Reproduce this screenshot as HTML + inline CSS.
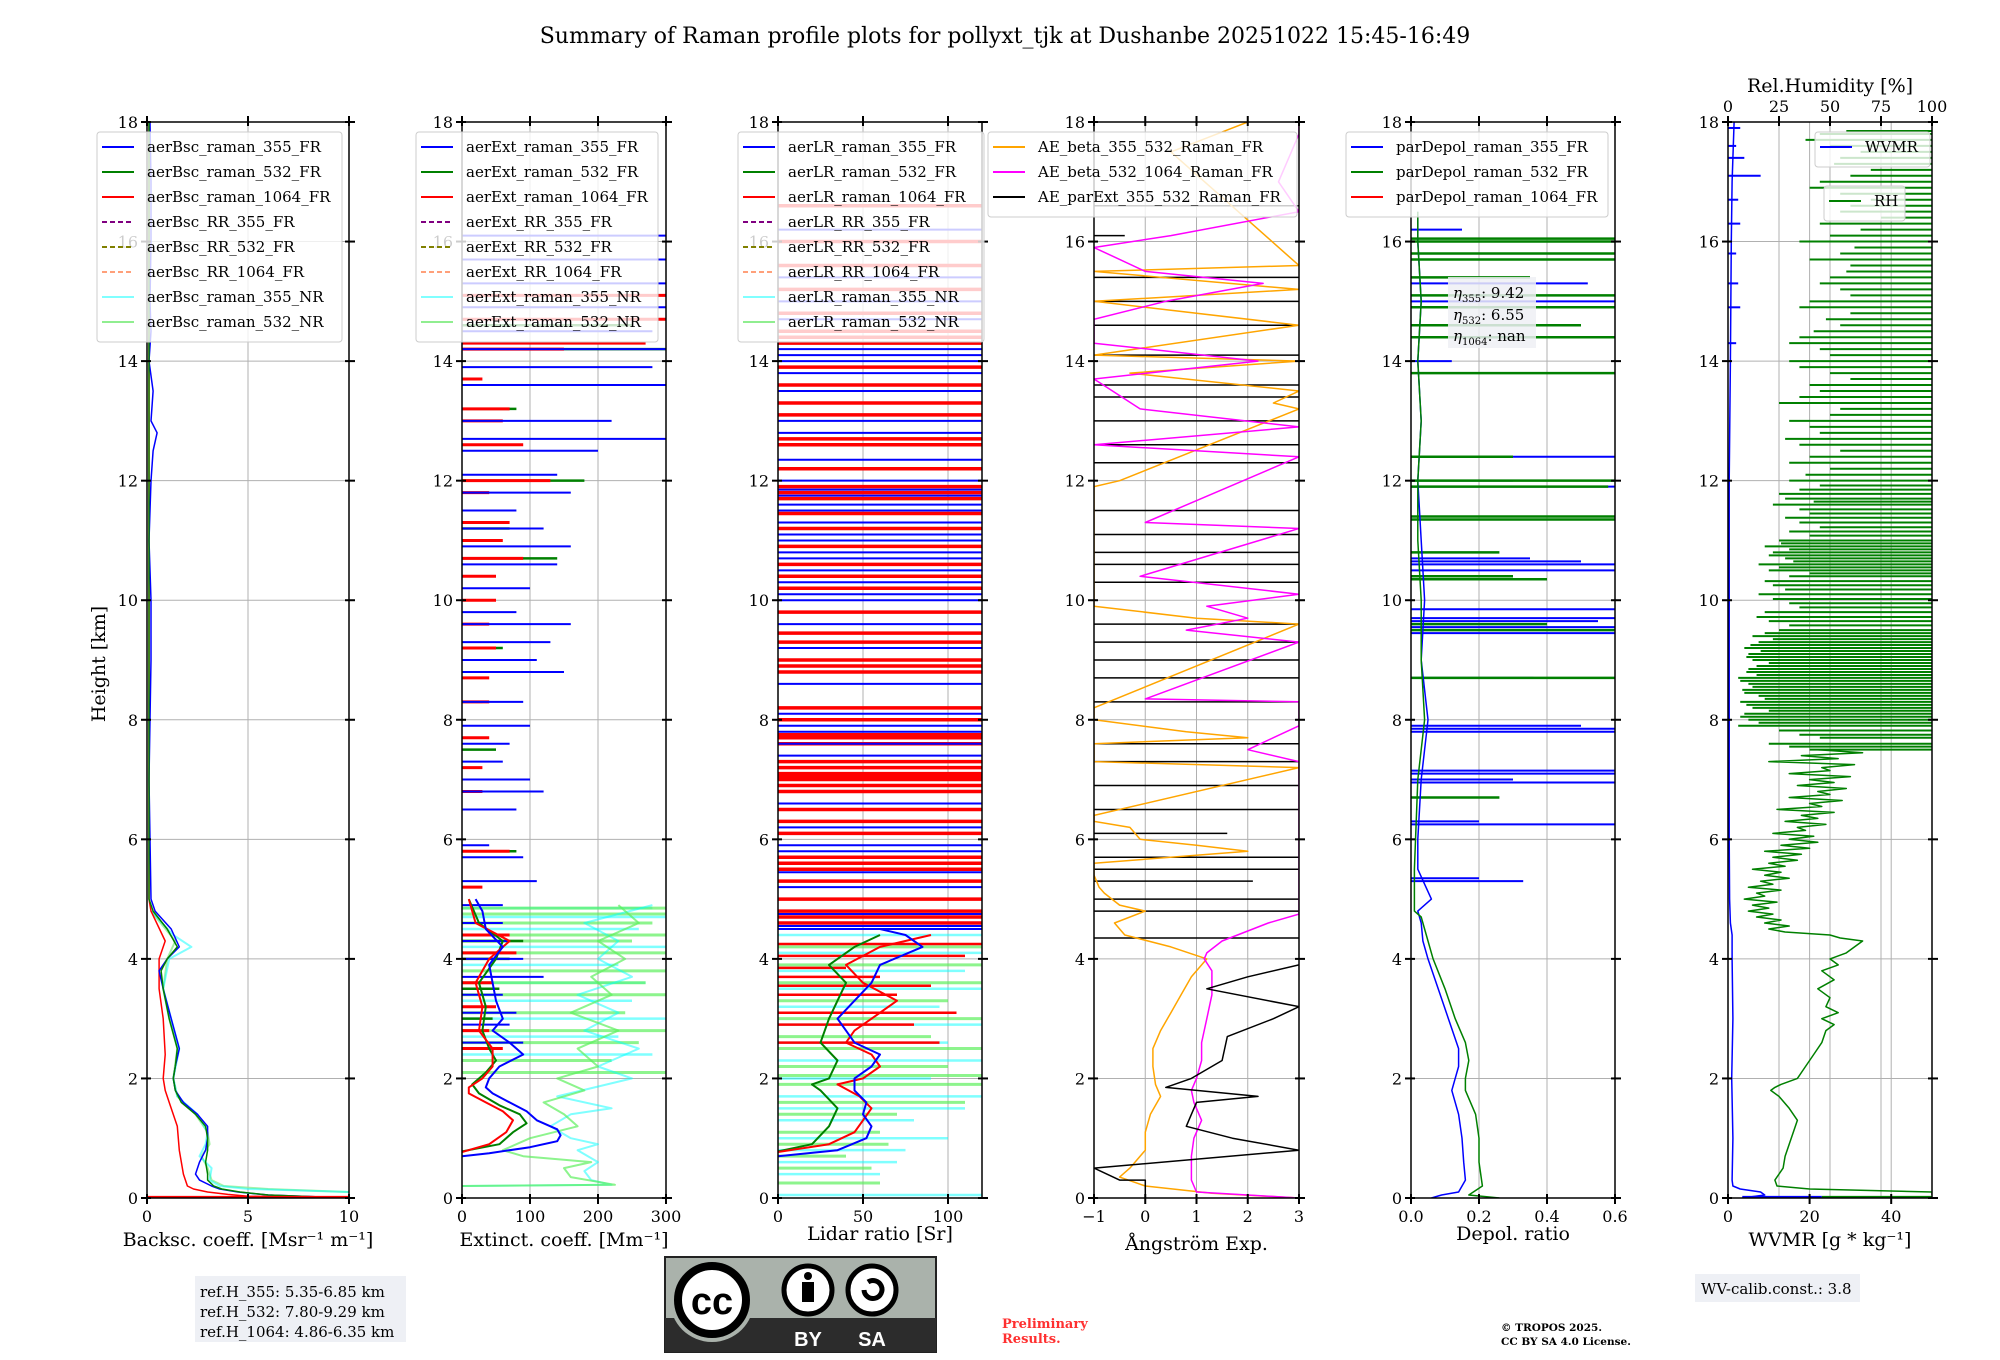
<!DOCTYPE html>
<html><head><meta charset="utf-8"><title>Raman profile summary</title>
<style>
html,body{margin:0;padding:0;background:#fff;}
svg{display:block;font-family:"DejaVu Serif","Liberation Serif",serif;}
</style></head>
<body>
<svg id="fig" width="2000" height="1360" viewBox="0 0 2000 1360" xmlns="http://www.w3.org/2000/svg">
<rect x="0" y="0" width="2000" height="1360" fill="#fff"/>
<text x="1005" y="43" font-size="22" text-anchor="middle">Summary of Raman profile plots for pollyxt_tjk at Dushanbe 20251022 15:45-16:49</text>
<text transform="translate(105,664) rotate(-90)" font-size="19" text-anchor="middle">Height [km]</text>
<g id="panels"></g>
<g>
<rect x="195" y="1276" width="211" height="66" fill="#eef0f5"/>
<text x="200" y="1297" font-size="15">ref.H_355: 5.35-6.85 km</text>
<text x="200" y="1317" font-size="15">ref.H_532: 7.80-9.29 km</text>
<text x="200" y="1337" font-size="15">ref.H_1064: 4.86-6.35 km</text>
</g>
<g>
<rect x="665" y="1257" width="271" height="95" fill="#aab2ab" stroke="#222" stroke-width="2"/>
<rect x="665" y="1318" width="271" height="34" fill="#2c2c2c"/>
<circle cx="712" cy="1300" r="42" fill="#aab2ab"/>
<circle cx="712" cy="1300" r="34" fill="#fff" stroke="#000" stroke-width="8"/>
<text x="712" y="1314" font-size="38" font-weight="bold" text-anchor="middle" font-family="Liberation Sans,sans-serif">cc</text>
<circle cx="808" cy="1290" r="24" fill="#fff" stroke="#000" stroke-width="5"/>
<circle cx="808" cy="1276" r="4" fill="#000"/><rect x="802" y="1282" width="12" height="20" fill="#000"/>
<circle cx="872" cy="1290" r="24" fill="#fff" stroke="#000" stroke-width="5"/>
<path d="M864 1290 a9 9 0 1 0 4 -8" fill="none" stroke="#000" stroke-width="5"/>
<text x="808" y="1346" font-size="20" font-weight="bold" fill="#fff" text-anchor="middle" font-family="Liberation Sans,sans-serif">BY</text>
<text x="872" y="1346" font-size="20" font-weight="bold" fill="#fff" text-anchor="middle" font-family="Liberation Sans,sans-serif">SA</text>
</g>
<text x="1002" y="1328" font-size="13" font-weight="bold" fill="#ff3030">Preliminary</text>
<text x="1002" y="1343" font-size="13" font-weight="bold" fill="#ff3030">Results.</text>
<text x="1501" y="1331" font-size="10.5" font-weight="bold">© TROPOS 2025.</text>
<text x="1501" y="1345" font-size="10.5" font-weight="bold">CC BY SA 4.0 License.</text>
<g>
<rect x="1695" y="1274" width="165" height="28" fill="#eef0f5"/>
<text x="1701" y="1294" font-size="15">WV-calib.const.: 3.8</text>
</g>
</svg>
<script>
// ---------- DATA ----------
const bsc355H=[0,0.05,0.1,0.15,0.2,0.3,0.4,0.6,0.8,1.0,1.2,1.4,1.6,1.8,2.0,2.2,2.5,3.0,3.5,3.8,4.0,4.2,4.5,4.8,5.0,6,7,8,9,10,11,12,12.5,12.8,13,13.5,14,14.5,15,16,17,18];
const bsc355V=[10,6,4.5,3.6,3.2,2.6,2.4,2.6,2.9,3.0,3.0,2.5,1.8,1.4,1.3,1.4,1.6,1.2,0.8,0.6,1.0,1.6,1.2,0.4,0.2,0.15,0.1,0.15,0.2,0.2,0.1,0.2,0.3,0.5,0.2,0.3,0.1,0.2,0.15,0.2,0.2,0.15];
const bsc532H=[0,0.05,0.1,0.15,0.2,0.3,0.4,0.6,0.8,1.0,1.2,1.4,1.6,1.8,2.0,2.2,2.5,3.0,3.5,3.8,4.0,4.2,4.5,4.8,5.0,18];
const bsc532V=[10,6,4.6,3.7,3.3,3.0,3.0,2.9,3.0,3.0,2.9,2.4,1.7,1.4,1.3,1.4,1.5,1.1,0.8,0.7,1.0,1.5,1.0,0.3,0.1,0.1];
const bsc1064H=[0,0.03,0.06,0.1,0.15,0.2,0.4,0.8,1.2,1.6,1.8,2.0,2.4,3.0,3.5,4.0,4.3,4.8,5.0,18];
const bsc1064V=[10,5,4,3,2.3,2.0,1.8,1.6,1.5,1.1,0.9,0.8,0.9,0.8,0.6,0.6,0.9,0.2,0.1,0.1];
const bscNR355H=[0.1,0.15,0.2,0.3,0.5,0.7,0.9,1.1,1.4,1.7,2.0,2.5,3.0,3.5,4.0,4.2,4.4,4.8];
const bscNR355V=[10,5,3.6,3.1,3.2,2.6,2.9,3.0,2.5,1.5,1.3,1.6,1.2,0.8,1.1,2.2,1.3,0.2];
const bscNR532H=[0.1,0.15,0.2,0.3,0.5,0.7,0.9,1.1,1.4,1.7,2.0,2.5,3.0,3.5,4.0,4.3,4.8];
const bscNR532V=[10,6,3.8,3.2,3.0,2.7,3.1,3.0,2.4,1.5,1.3,1.5,1.1,0.8,1.0,1.4,0.2];
const ext355H=[0.7,0.75,0.85,0.95,1.05,1.15,1.3,1.45,1.6,1.75,1.85,2.0,2.2,2.4,2.6,2.8,3.0,3.3,3.6,3.9,4.2,4.5,4.8,5.0];
const ext355V=[0,40,100,140,145,140,110,95,70,45,35,40,55,90,70,45,60,50,45,40,60,35,30,20];
const ext532H=[0.78,0.9,1.1,1.25,1.4,1.55,1.75,1.9,2.1,2.3,2.5,2.8,3.2,3.6,4.0,4.3,4.6,5.0];
const ext532V=[0,55,75,95,85,55,25,15,35,50,40,30,35,25,50,60,25,10];
const ext1064H=[0.77,0.9,1.1,1.3,1.45,1.6,1.75,1.85,2.0,2.2,2.5,2.8,3.2,3.6,4.0,4.3,4.6,5.0];
const ext1064V=[0,40,65,75,60,35,10,10,30,45,45,25,30,20,40,70,20,10];
const extNR355H=[0.2,0.22,0.3,0.45,0.6,0.8,0.9,1.0,1.2,1.4,1.5,1.7,2.0,2.2,2.5,2.8,3.1,3.4,3.7,4.0,4.3,4.6,4.9];
const extNR355V=[0,220,190,180,200,170,200,160,130,160,220,140,250,200,260,180,230,170,250,200,230,180,280];
const extNR532H=[0.2,0.22,0.35,0.5,0.6,0.7,0.8,1.0,1.2,1.4,1.6,1.8,2.0,2.2,2.5,2.8,3.1,3.4,3.7,4.0,4.3,4.6,4.9];
const extNR532V=[0,225,160,150,190,90,60,100,170,150,120,180,140,200,170,230,160,220,190,240,200,260,230];
const extSp355H=[2.6,2.9,3.1,3.4,3.7,4.0,4.3,4.6,4.9,5.3,5.7,5.9,6.5,6.8,7.0,7.3,7.6,7.9,8.3,8.8,9.0,9.3,9.6,9.8,10.2,10.6,10.9,11.2,11.5,11.8,12.1,12.5,12.7,13.0,13.6,13.9,14.2,14.5,14.9,15.3,15.7,16.1];
const extSp355V=[90,70,80,60,120,90,70,60,60,110,90,40,80,120,100,60,70,100,90,150,110,130,160,80,100,140,160,120,80,160,140,200,300,220,300,280,300,280,300,300,300,300];
const extSp1064H=[2.5,2.8,3.2,3.6,4.1,4.4,5.2,5.8,6.8,7.2,7.7,8.3,8.7,9.2,9.6,10.0,10.4,10.7,11.0,11.3,11.8,12.0,12.6,13.0,13.2,13.7,14.2,14.3,14.7,15.1];
const extSp1064V=[60,40,50,45,80,70,30,70,30,30,40,40,40,50,40,50,50,90,60,70,40,130,90,60,70,30,150,270,300,300];
const extSp532H=[2.5,3.0,3.5,4.0,4.3,5.8,7.5,8.3,9.2,10.0,10.7,11.2,12.0,12.6,13.2,14.2,14.6];
const extSp532V=[50,45,55,70,90,80,50,30,60,40,140,70,180,60,80,300,250];
const extSpNR355H=[2.4,2.7,3.0,3.3,3.6,3.9,4.2,4.5,4.7,4.85];
const extSpNR355V=[280,230,300,250,270,230,300,260,300,280];
const extSpNR532H=[2.1,2.3,2.6,2.8,3.1,3.4,3.6,3.8,4.1,4.3,4.4,4.6,4.75,4.85];
const extSpNR532V=[300,220,260,300,240,300,270,300,300,250,300,280,300,300];
const lr355H=[0.7,0.8,1.0,1.2,1.4,1.6,1.8,2.0,2.2,2.4,2.6,2.8,3.0,3.3,3.6,3.9,4.2,4.4,4.5];
const lr355V=[0,35,52,55,50,52,45,45,55,60,45,40,35,45,55,60,85,75,60];
const lr532H=[0.78,0.9,1.2,1.5,1.8,1.9,2.0,2.3,2.6,3.0,3.3,3.6,3.9,4.2,4.4];
const lr532V=[0,20,30,35,25,20,30,35,25,30,35,40,30,45,60];
const lr1064H=[0.77,0.9,1.1,1.3,1.5,1.7,1.9,2.0,2.2,2.4,2.6,2.8,3.0,3.3,3.6,3.9,4.2,4.4];
const lr1064V=[0,30,45,50,55,48,35,50,60,55,40,45,55,70,50,40,60,90];
const lrSpNR355H=[0.05,0.4,0.6,0.8,1.0,1.3,1.5,1.7,2.0,2.3,2.6,2.9,3.2,3.5,3.8,4.1,4.4];
const lrSpNR355V=[120,60,70,75,100,80,110,120,90,120,100,120,95,120,110,120,120];
const lrSpNR532H=[0.25,0.5,0.7,0.9,1.1,1.4,1.6,1.9,2.05,2.2,2.5,2.7,3.0,3.3,3.6,3.9,4.2,4.6,4.8];
const lrSpNR532V=[60,55,40,65,60,70,110,120,120,100,120,90,120,100,120,120,120,120,120];
const lrSp1064H=[2.6,2.9,3.1,3.4,3.55,3.7,3.85,4.05,4.25];
const lrSp1064V=[95,80,105,70,90,60,40,110,120];
const lrRedH=[4.6,4.7,4.8,5.0,5.3,5.5,5.6,5.7,6.1,6.3,6.5,6.8,6.9,7.0,7.05,7.1,7.2,7.3,7.6,7.7,7.75,8.0,8.2,8.8,8.9,9.0,9.3,9.45,9.8,10.2,10.4,10.6,10.9,11.2,11.45,11.7,11.8,11.9,12.2,12.6,12.7,13.1,13.3,13.6,13.9,14.3,14.4,14.5,14.8,15.2,15.6,16.0,16.6];
const lrBlueH=[4.5,4.55,4.75,5.2,5.45,5.8,5.9,6.2,6.6,7.4,7.6,7.8,7.9,8.1,8.6,9.2,9.6,10.0,10.1,10.3,10.5,10.7,10.8,11.0,11.1,11.3,11.5,11.6,11.75,11.85,12.0,12.35,12.8,13.0,13.5,13.8,14.0,14.1,14.2,14.7,15.0,15.4,16.2];
const aeOrH=[0,0.08,0.2,0.35,0.5,0.8,1.1,1.4,1.7,1.9,2.2,2.5,2.8,3.1,3.4,3.7,4.0,4.2,4.4,4.6,4.8,4.9,5.1,5.2,5.4,5.6,5.8,5.9,6.0,6.2,6.3,6.4,7.2,7.3,7.6,7.7,7.8,8.0,8.2,9.6,9.7,9.9,10.5,11.9,12.0,13.2,13.3,13.5,13.8,14.0,14.1,14.6,15.0,15.2,15.5,15.6,17.5,18];
const aeOrV=[3,1.3,0,-0.5,-0.3,0,0,0.1,0.3,0.2,0.15,0.15,0.3,0.5,0.7,0.9,1.2,0.5,-0.4,-0.6,0.0,-0.5,-0.8,-0.9,-1,-1,2.0,1.0,-0.1,-0.3,-1,-1,3.0,-1,-1,2.0,0.8,-1,-1,3,1,-1,-1,-1,-0.5,3,2.5,3,-0.3,3,-1,3,-1,3,-1,3,0.5,2];
const aeMaH=[0,0.1,0.3,0.7,1.0,1.3,1.6,1.8,2.0,2.3,2.6,3.0,3.4,3.8,4.0,4.1,4.3,4.6,4.75,7.3,7.5,7.7,7.9,8.3,8.35,9.3,9.5,9.7,9.9,10.1,10.4,11.2,11.3,12.4,12.6,12.9,13.2,13.7,14.0,14.3,14.7,15.0,15.3,15.5,15.9,16.1,16.5,17.0,17.8,18];
const aeMaV=[3,1.0,0.9,0.9,0.95,1.1,0.95,0.9,1.0,1.1,1.1,1.2,1.3,1.3,1.15,1.2,1.5,2.4,3,3,2.0,2.5,3,3,0.0,3,0.8,2.0,1.2,3,-0.1,3,0,3,-1,3,-0.1,-1,2.2,-1,-1,0.4,2.3,0,-1,0.5,3,2.6,3,3];
const aeBlH=[0,0.3,0.3,0.5,0.8,1.0,1.2,1.4,1.6,1.7,1.85,2.0,2.3,2.7,3.0,3.2,3.5,3.7,3.9];
const aeBlV=[0,0,-0.5,-1,3,1.7,0.8,0.9,1.0,2.2,0.4,0.9,1.5,1.6,2.5,3,1.2,2.0,3];
const aeBlSpH=[4.35,4.8,5.0,5.3,5.5,5.7,6.1,6.5,6.9,7.3,7.6,8.3,8.7,9.0,9.3,9.6,10.3,10.6,10.8,11.1,11.5,12.3,12.6,13.0,13.4,13.6,14.1,14.6,15.0,15.4,16.1,16.6];
const aeBlSpV=[3,3,3,2.1,3,3,1.6,3,3,3,3,3,3,3,3,3,3,3,3,3,3,3,3,3,3,3,3,3,3,3,-0.4,3];
const dep355H=[0,0.05,0.1,0.3,0.6,1.0,1.4,1.8,2.0,2.2,2.5,3.0,3.5,4.0,4.3,4.6,4.8,5.0,5.5,6,7,8,9,10,11,12,13,14,15,16,16.5];
const dep355V=[0.06,0.09,0.14,0.16,0.155,0.15,0.14,0.12,0.13,0.14,0.14,0.11,0.08,0.05,0.035,0.03,0.02,0.06,0.02,0.02,0.03,0.05,0.03,0.04,0.03,0.02,0.03,0.02,0.03,0.02,0.02];
const dep532H=[0,0.05,0.2,0.6,1.0,1.4,1.8,2.0,2.3,2.6,3.0,3.5,4.0,4.4,4.7,4.8,5.5,7,8,9,10,11,12,13,14,15,16,16.5];
const dep532V=[0.26,0.17,0.21,0.2,0.2,0.19,0.16,0.16,0.17,0.16,0.13,0.1,0.065,0.045,0.03,0.01,0.01,0.02,0.04,0.03,0.03,0.02,0.02,0.03,0.02,0.03,0.02,0.02];
const depSp355H=[5.3,5.35,6.25,6.3,6.95,7.0,7.1,7.15,7.8,7.85,7.9,8.7,9.45,9.55,9.65,9.7,9.85,10.5,10.6,10.65,10.7,11.35,11.4,11.9,12.0,12.4,14.0,15.0,15.3,16.2];
const depSp355V=[0.33,0.2,0.6,0.2,0.6,0.3,0.6,0.6,0.6,0.6,0.5,0.36,0.6,0.6,0.55,0.6,0.6,0.6,0.6,0.5,0.35,0.6,0.4,0.6,0.3,0.6,0.12,0.6,0.52,0.15];
const depSp532H=[6.7,8.7,9.5,9.6,10.35,10.4,10.8,11.35,11.4,11.9,12.0,12.4,13.8,14.4,14.6,14.9,15.1,15.4,15.7,15.8,16.0,16.05];
const depSp532V=[0.26,0.6,0.6,0.4,0.4,0.3,0.26,0.6,0.6,0.58,0.6,0.3,0.6,0.6,0.5,0.6,0.6,0.35,0.6,0.6,0.6,0.6];
const wvH=[0,0.05,0.1,0.15,0.2,0.3,1.0,2.0,3.0,4.0,4.4,4.6,5,6,8,10,12,14,16,17,18];
const wvV=[3.5,9,8,3,1.2,1.0,1.2,0.9,1.2,1.0,1.0,0.6,0.4,0.3,0.3,0.3,0.3,0.6,0.8,1.0,1.5];
const rhH=[0.05,0.1,0.15,0.2,0.3,0.5,0.7,0.9,1.1,1.3,1.5,1.7,1.8,1.85,1.9,2.0,2.2,2.4,2.6,2.8,2.9,3.0,3.1,3.2,3.35,3.5,3.65,3.8,3.9,4.0,4.1,4.2,4.3,4.35,4.4,4.45,4.5,4.55,4.6,4.65,4.7,4.75,4.8,4.85,4.9,4.95,5.0,5.05,5.1,5.15,5.2,5.25,5.3,5.35,5.4,5.45,5.5,5.55,5.6,5.65,5.7,5.75,5.8,5.85,5.9,5.95,6.0,6.05,6.1,6.15,6.2,6.25,6.3,6.35,6.4,6.45,6.5,6.55,6.6,6.65,6.7,6.75,6.8,6.85,6.9,6.95,7.0,7.05,7.1,7.15,7.2,7.25,7.3,7.35,7.4,7.45,7.5];
const rhV=[100,100,40,24,23,27,28,30,32,34,30,25,21,23,26,34,38,42,46,48,52,46,54,48,50,44,52,46,54,50,58,62,66,55,50,28,20,30,18,26,14,22,10,20,12,24,8,18,14,26,10,22,16,30,18,26,12,28,20,34,22,36,18,40,26,44,30,42,22,38,34,48,28,44,36,52,24,46,40,56,30,50,44,58,34,52,40,60,30,50,46,62,20,54,36,66,44];
const rhSpH=[7.5,7.6,7.75,7.9,8.0,8.1,8.2,8.3,8.4,8.5,8.6,8.7,8.8,8.9,9.0,9.1,9.2,9.3,9.4,9.5,9.65,9.8,9.95,10.1,10.25,10.4,10.5,10.6,10.7,10.8,10.9,11.0,11.15,11.3,11.45,11.6,11.7,11.85,12.0,12.2,12.4,12.6,12.8,13.0,13.2,13.4,13.6,13.8,14.0,14.2,14.4,14.6,14.8,15.0,15.2,15.4,15.6,15.8,16.0,16.2,16.4,16.6,16.8,17.0,17.2,17.4,17.6,17.8];
const rhSpL=[40,20,35,5,10,8,12,6,15,7,10,5,9,14,12,10,8,15,12,25,20,18,30,15,22,30,20,15,28,22,18,25,30,35,40,22,28,35,30,50,40,35,45,30,55,35,40,50,30,45,35,55,60,40,55,50,60,55,35,65,75,60,55,45,70,55,50,45];
const rhSp2H=[7.55,7.7,7.82,7.95,8.05,8.15,8.25,8.35,8.45,8.55,8.65,8.75,8.85,8.95,9.05,9.15,9.25,9.35,9.45,9.58,9.72,9.88,10.02,10.18,10.32,10.45,10.55,10.65,10.75,10.85,10.95,11.08,11.22,11.38,11.52,11.65,11.78,11.92,12.1,12.3,12.5,12.7,12.9,13.1,13.3,13.5,13.7,13.9,14.1,14.3,14.5,14.7,14.9,15.1,15.3,15.5,15.7,15.9,16.1,16.3,16.5,16.7,16.9,17.1,17.3,17.5,17.7,17.85];
const rhSp2L=[30,45,25,15,6,20,9,18,8,12,6,14,10,20,9,16,11,22,18,30,14,35,22,28,18,40,25,32,20,30,26,40,45,28,35,42,25,45,38,30,55,28,40,50,25,45,60,35,50,30,42,48,35,60,45,58,40,62,50,45,55,70,40,60,52,65,38,58];
const wvSpH=[14.3,14.9,15.3,15.8,16.3,16.7,17.1,17.4,17.6,17.9];
const wvSpV=[2,3,2.5,2,3,2.5,8,4,2,3];
const yTicks=[0,2,4,6,8,10,12,14,16,18];
const p1Ticks=[0,5,10], p2Ticks=[0,100,200,300], p3Ticks=[0,50,100], p4Ticks=[-1,0,1,2,3], p5Ticks=[0,0.2,0.4,0.6], p6Ticks=[0,20,40], rhTicks=[0,25,50,75,100];
const p4Labels=['\u22121','0','1','2','3'], p5Labels=['0.0','0.2','0.4','0.6'];

// ---------- DRAWING ----------
const NS='http://www.w3.org/2000/svg';
const Y0=1198, Y18=122;
function yOf(h){return Y0-(h/18)*(Y0-Y18);}
const panels=[
 {x0:147,x1:349,min:0,max:10,ticks:p1Ticks,labels:null,label:'Backsc. coeff. [Msr\u207B\u00B9 m\u207B\u00B9]',name:'backscatter-panel'},
 {x0:462,x1:666,min:0,max:300,ticks:p2Ticks,labels:null,label:'Extinct. coeff. [Mm\u207B\u00B9]',name:'extinction-panel'},
 {x0:778,x1:982,min:0,max:120,ticks:p3Ticks,labels:null,label:'Lidar ratio [Sr]',name:'lidar-ratio-panel'},
 {x0:1094,x1:1299,min:-1,max:3,ticks:p4Ticks,labels:p4Labels,label:'\u00C5ngstr\u00F6m Exp.',name:'angstrom-panel'},
 {x0:1411,x1:1615,min:0,max:0.6,ticks:p5Ticks,labels:p5Labels,label:'Depol. ratio',name:'depol-panel'},
 {x0:1728,x1:1932,min:0,max:50,ticks:p6Ticks,labels:null,label:'WVMR [g * kg\u207B\u00B9]',name:'wvmr-panel'}
];
const labelY=[1246,1246,1240,1250,1240,1246];
function xOf(p,v){return p.x0+(v-p.min)/(p.max-p.min)*(p.x1-p.x0);}
function el(tag,attrs,parent){const e=document.createElementNS(NS,tag);for(const k in attrs)e.setAttribute(k,attrs[k]);parent.appendChild(e);return e;}
const root=document.getElementById('panels');

function line(g,p,H,V,color,w,op){
  const pts=H.map((h,i)=>xOf(p,V[i]).toFixed(1)+','+yOf(h).toFixed(1)).join(' ');
  const e=el('polyline',{points:pts,fill:'none',stroke:color,'stroke-width':w,'stroke-opacity':op||1,'stroke-linejoin':'round'},g);
  
  
}
function spikes(g,p,H,V,base,color,w,op){
  H.forEach((h,i)=>{
    const e=el('line',{x1:xOf(p,base),x2:xOf(p,V[i]),y1:yOf(h),y2:yOf(h),stroke:color,'stroke-width':w,'stroke-opacity':op||1},g);
    
    
  });
}
function spikesL(g,p,H,L,right,color,w,op){
  H.forEach((h,i)=>{
    const e=el('line',{x1:xOf(p,L[i]),x2:xOf(p,right),y1:yOf(h),y2:yOf(h),stroke:color,'stroke-width':w,'stroke-opacity':op||1},g);
    
    
  });
}
function legend(x,y,w,entries,name,fs){
  const g=el('g',{},document.getElementById('fig'));
  
  
  const h=entries.length*25+10;
  el('rect',{x:x,y:y,width:w,height:h,rx:3,fill:'#fff','fill-opacity':0.8,stroke:'#ccc'},g);
  entries.forEach((en,i)=>{
    const cy=y+15+i*25;
    const l=el('line',{x1:x+5,x2:x+37,y1:cy,y2:cy,stroke:en[1],'stroke-width':2,'stroke-dasharray':en[2]?'5,3':'none'},g);
    
    
    const t=el('text',{x:x+50,y:cy+5,'font-size':fs||15},g);
    t.textContent=en[0];
    
    
  });
}

panels.forEach((p,pi)=>{
  const g=el('g',{},root);
  
  
  const cid='clip'+pi;
  const cp=el('clipPath',{id:cid},g);
  el('rect',{x:p.x0,y:Y18,width:p.x1-p.x0,height:Y0-Y18},cp);
  yTicks.forEach(t=>{ if(t>0&&t<18){const e=el('line',{x1:p.x0,x2:p.x1,y1:yOf(t),y2:yOf(t),stroke:'#b0b0b0','stroke-width':1},g);}});
  p.ticks.forEach(t=>{const xx=xOf(p,t); if(xx>p.x0+1&&xx<p.x1-1){const e=el('line',{x1:xx,x2:xx,y1:Y18,y2:Y0,stroke:'#b0b0b0','stroke-width':1},g);}});
  if(pi===5){rhTicks.forEach(t=>{const xx=p.x0+t/100*(p.x1-p.x0); if(t>0&&t<100){const e=el('line',{x1:xx,x2:xx,y1:Y18,y2:Y0,stroke:'#b0b0b0','stroke-width':1},g);}});}
  const d=el('g',{'clip-path':'url(#'+cid+')'},g);
  
  
  if(pi===0){
    line(d,p,bscNR532H,bscNR532V,'#90ee90',2,0.8);
    line(d,p,bscNR355H,bscNR355V,'#00ffff',2,0.5);
    line(d,p,bsc1064H,bsc1064V,'#ff0000',1.5);
    line(d,p,bsc355H,bsc355V,'#0000ff',1.5);
    line(d,p,bsc532H,bsc532V,'#008000',1.5);
    spikes(d,p,[0.01],[10],0,'#ff0000',3);
  } else if(pi===1){
    spikes(d,p,extSpNR355H,extSpNR355V,0,'#00ffff',2.5,0.5);
    spikes(d,p,extSpNR532H,extSpNR532V,0,'#5cf05c',3,0.7);
    line(d,p,extNR355H,extNR355V,'#00ffff',2,0.5);
    line(d,p,extNR532H,extNR532V,'#5cf05c',2,0.7);
    spikes(d,p,extSp532H,extSp532V,0,'#008000',2.5);
    spikes(d,p,extSp1064H,extSp1064V,0,'#ff0000',3);
    spikes(d,p,extSp355H,extSp355V,0,'#0000ff',2);
    line(d,p,ext532H,ext532V,'#008000',2);
    line(d,p,ext1064H,ext1064V,'#ff0000',2);
    line(d,p,ext355H,ext355V,'#0000ff',2);
  } else if(pi===2){
    spikes(d,p,lrSpNR355H,lrSpNR355V,0,'#00ffff',2.5,0.5);
    spikes(d,p,lrSpNR532H,lrSpNR532V,0,'#5cf05c',3,0.7);
    spikes(d,p,lrRedH,lrRedH.map(()=>200),0,'#ff0000',3.5);
    spikes(d,p,lrBlueH,lrBlueH.map(()=>200),0,'#0000ff',2);
    spikes(d,p,lrSp1064H,lrSp1064V,0,'#ff0000',2.5);
    line(d,p,lr532H,lr532V,'#008000',2);
    line(d,p,lr1064H,lr1064V,'#ff0000',2);
    line(d,p,lr355H,lr355V,'#0000ff',2);
  } else if(pi===3){
    spikes(d,p,aeBlSpH,aeBlSpV,-1,'#000000',1.5);
    line(d,p,aeOrH,aeOrV,'#ffa500',1.5);
    line(d,p,aeMaH,aeMaV,'#ff00ff',1.5);
    line(d,p,aeBlH,aeBlV,'#000000',1.5);
  } else if(pi===4){
    spikes(d,p,depSp355H,depSp355V,0,'#0000ff',2);
    spikes(d,p,depSp532H,depSp532V,0,'#008000',2.5);
    line(d,p,dep355H,dep355V,'#0000ff',1.5);
    line(d,p,dep532H,dep532V,'#008000',1.5);
  } else {
    const pr={x0:p.x0,x1:p.x1,min:0,max:100};
    spikesL(d,pr,rhSpH,rhSpL,100,'#008000',2);
    spikesL(d,pr,rhSp2H,rhSp2L,100,'#008000',2);
    line(d,pr,rhH,rhV,'#008000',1.5);
    spikes(d,p,wvSpH,wvSpV,0,'#0000ff',2);
    line(d,p,wvH,wvV,'#0000ff',1.5);
    spikes(d,p,[0.01],[23],3.5,'#0000ff',3);
    spikes(d,p,[0.01],[50],23,'#008000',3);
  }
  const fr=el('rect',{x:p.x0,y:Y18,width:p.x1-p.x0,height:Y0-Y18,fill:'none',stroke:'#000','stroke-width':1.5},g);
  
  
  yTicks.forEach(t=>{
    const yy=yOf(t);
    el('line',{x1:p.x0-6,x2:p.x0+4,y1:yy,y2:yy,stroke:'#000','stroke-width':2},g);
    el('line',{x1:p.x1-4,x2:p.x1+6,y1:yy,y2:yy,stroke:'#000','stroke-width':2},g);
    const tx=el('text',{x:p.x0-9,y:yy+6,'font-size':16,'text-anchor':'end'},g);
    tx.textContent=String(t);
    
    
  });
  p.ticks.forEach((t,i)=>{
    const xx=xOf(p,t);
    el('line',{x1:xx,x2:xx,y1:Y0-4,y2:Y0+6,stroke:'#000','stroke-width':2},g);
    if(pi!==5) el('line',{x1:xx,x2:xx,y1:Y18-6,y2:Y18+4,stroke:'#000','stroke-width':2},g);
    const tx=el('text',{x:xx,y:Y0+24,'font-size':16,'text-anchor':'middle'},g);
    tx.textContent=p.labels?p.labels[i]:String(t);
    
    
  });
  const lab=el('text',{x:(p.x0+p.x1)/2,y:labelY[pi],'font-size':19,'text-anchor':'middle'},g);
  lab.textContent=p.label;
  
  
  if(pi===5){
    rhTicks.forEach(t=>{
      const xx=p.x0+t/100*(p.x1-p.x0);
      el('line',{x1:xx,x2:xx,y1:Y18-6,y2:Y18+4,stroke:'#000','stroke-width':2},g);
      const tx=el('text',{x:xx,y:Y18-10,'font-size':16,'text-anchor':'middle'},g);
      tx.textContent=String(t);
      
      
    });
    const rt=el('text',{x:(p.x0+p.x1)/2,y:92,'font-size':19,'text-anchor':'middle'},g);
    rt.textContent='Rel.Humidity [%]';
    
    
  }
});

legend(97,132,245,[['aerBsc_raman_355_FR','#0000ff'],['aerBsc_raman_532_FR','#008000'],['aerBsc_raman_1064_FR','#ff0000'],['aerBsc_RR_355_FR','#800080',1],['aerBsc_RR_532_FR','#808000',1],['aerBsc_RR_1064_FR','#ffa07a',1],['aerBsc_raman_355_NR','#80ffff'],['aerBsc_raman_532_NR','#90ee90']],'backscatter-legend');
legend(416,132,242,[['aerExt_raman_355_FR','#0000ff'],['aerExt_raman_532_FR','#008000'],['aerExt_raman_1064_FR','#ff0000'],['aerExt_RR_355_FR','#800080',1],['aerExt_RR_532_FR','#808000',1],['aerExt_RR_1064_FR','#ffa07a',1],['aerExt_raman_355_NR','#80ffff'],['aerExt_raman_532_NR','#90ee90']],'extinction-legend');
legend(738,132,246,[['aerLR_raman_355_FR','#0000ff'],['aerLR_raman_532_FR','#008000'],['aerLR_raman_1064_FR','#ff0000'],['aerLR_RR_355_FR','#800080',1],['aerLR_RR_532_FR','#808000',1],['aerLR_RR_1064_FR','#ffa07a',1],['aerLR_raman_355_NR','#80ffff'],['aerLR_raman_532_NR','#90ee90']],'lidar-ratio-legend');
legend(988,132,309,[['AE_beta_355_532_Raman_FR','#ffa500'],['AE_beta_532_1064_Raman_FR','#ff00ff'],['AE_parExt_355_532_Raman_FR','#000000']],'angstrom-legend');
legend(1346,132,262,[['parDepol_raman_355_FR','#0000ff'],['parDepol_raman_532_FR','#008000'],['parDepol_raman_1064_FR','#ff0000']],'depol-legend');
legend(1815,132,115,[['WVMR','#0000ff']],'wvmr-legend');
legend(1824,186,81,[['RH','#008000']],'rh-legend');
(function(){
  const fig=document.getElementById('fig');
  const g=el('g',{},fig);
  
  
  el('rect',{x:1448,y:277,width:88,height:71,fill:'#eef0f5','fill-opacity':0.85},g);
  [['355','9.42',298],['532','6.55',320],['1064','nan',341]].forEach(r=>{
    const t=el('text',{x:1453,y:r[2],'font-size':15},g);
    t.innerHTML='<tspan font-style="italic">\u03B7</tspan><tspan font-size="10" dy="4">'+r[0]+'</tspan><tspan dy="-4">: '+r[1]+'</tspan>';
    
    
  });
})();
</script>
</body></html>
